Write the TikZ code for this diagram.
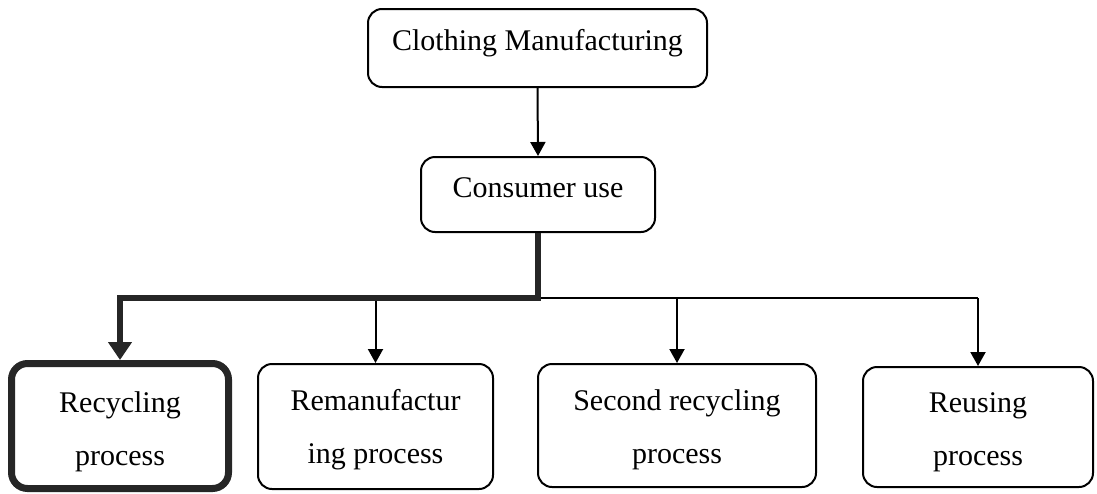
\documentclass[tikz,border=0pt]{standalone}
\usepackage{fontspec}
\setmainfont{Liberation Serif}
\usetikzlibrary{arrows.meta}
\begin{document}
\begin{tikzpicture}[x=1pt,y=-1pt,
  box/.style={draw=black,line width=2pt,rounded corners=14pt,rectangle,inner sep=0pt},
  heavybox/.style={draw=black!85,line width=7pt,rounded corners=16pt,rectangle,inner sep=0pt},
  txt/.style={anchor=base,inner sep=0pt,font=\fontsize{30}{36}\selectfont},
  link/.style={draw=black,line width=2pt,-{Triangle[length=14pt,width=15pt]}},
  heavylink/.style={draw=black!85,line width=5.5pt,-{Triangle[length=18pt,width=23pt]}},
  bus/.style={draw=black,line width=2pt}]
\useasboundingbox (0,0) rectangle (1097,493);

% top of the chain
\node[box,minimum width=339pt,minimum height=78pt] (cloth) at (537.5,48) {};
\node[txt] (clothT) at (537.5,50) {Clothing Manufacturing};
\node[box,minimum width=234pt,minimum height=75pt] (cons) at (538,194.5) {};
\node[txt] (consT) at (538,197) {Consumer use};

% end-of-life routes
\node[heavybox,minimum width=217pt,minimum height=125pt] (rec) at (120,426) {};
\node[txt] (recA) at (120,412) {Recycling};
\node[txt] (recB) at (120,465) {process};

\node[box,minimum width=235pt,minimum height=125pt] (rem) at (375.5,426.5) {};
\node[txt] (remA) at (375.5,410) {Remanufactur};
\node[txt] (remB) at (375.5,463) {ing process};

\node[box,minimum width=278pt,minimum height=123pt] (sec) at (677,425.5) {};
\node[txt] (secA) at (677,410) {Second recycling};
\node[txt] (secB) at (677,463) {process};

\node[box,minimum width=230pt,minimum height=120pt] (reu) at (978,427) {};
\node[txt] (reuA) at (978,412) {Reusing};
\node[txt] (reuB) at (978,465) {process};

% connectors
\coordinate (hub) at (538,298);
\draw[link] (cloth.south) -- (cons.north);
\draw[bus] (hub) -- (reu.north |- hub);
\draw[link] (reu.north |- hub) -- (reu.north);
\draw[link] (sec.north |- hub) -- (sec.north);
\draw[link] (rem.north |- hub) -- (rem.north);
\draw[heavylink,line join=miter] (cons.south) -- (hub) -| (rec.north);
\end{tikzpicture}
\end{document}
